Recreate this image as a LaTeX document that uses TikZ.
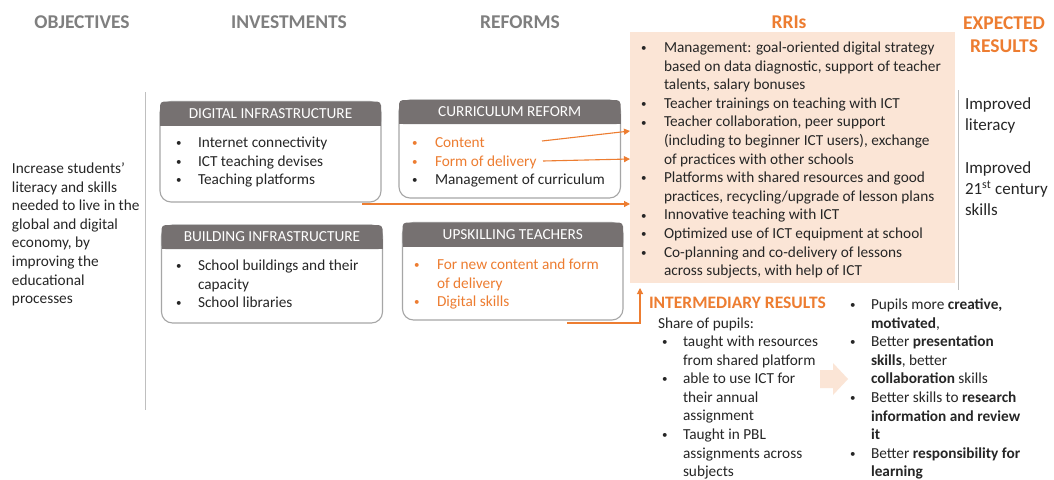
\documentclass[tikz,border=0pt]{standalone}
\usepackage{fontspec}
\setmainfont{Carlito}
\usetikzlibrary{arrows.meta}
\definecolor{hdr}{HTML}{767171}
\definecolor{ttl}{HTML}{7F7F7F}
\definecolor{org}{HTML}{ED7D31}
\definecolor{peach}{HTML}{FBE5D6}
\definecolor{txt}{HTML}{262626}
\definecolor{brd}{HTML}{A6A6A6}
\definecolor{vln}{HTML}{BFBFBF}
\newcommand{\bfs}{\fontsize{15.3}{18.6}\selectfont}
\newcommand{\bul}{\raisebox{0.8pt}{\scalebox{0.72}{\textbullet}}}
\newcommand{\obul}{\textcolor{org}{\bul}}
\newcommand{\blst}[2]{\begin{tabular}[t]{@{}p{#1}@{}l@{}}#2\end{tabular}}
\newcommand{\ltab}[1]{\begin{tabular}[t]{@{}l@{}}#1\end{tabular}}
\newcommand{\mybox}[6]{%
  \node[frame, minimum width=#4pt, minimum height=#5pt, anchor=north west] (#1) at (#2,#3) {};
  \fill[hdr, rounded corners=4pt] (#1.north west) rectangle ([yshift=-24pt]#1.north east);
  \fill[hdr] ([yshift=-14pt]#1.north west) rectangle ([yshift=-24pt]#1.north east);
  \node[hdrtext] (#1h) at ([yshift=-12pt]#1.north) {#6};
}
\tikzset{
  x=1pt, y=-1pt,
  every node/.style={inner sep=0pt, outer sep=0pt, text=txt, font=\bfs},
  colhead/.style={font=\fontsize{19.5}{23.8}\selectfont\bfseries, text=ttl, anchor=base},
  frame/.style={draw=brd, line width=1.1pt, rounded corners=11pt, fill=white},
  hdrtext/.style={text=white, anchor=center},
  lst/.style={anchor=base west},
  conn/.style={draw=org, line width=1.1pt, -{Triangle[length=6pt,width=6pt]}},
  vrule/.style={draw=vln, line width=1pt},
}
\begin{document}
\begin{tikzpicture}
\useasboundingbox (0,0) rectangle (1054,479);
\fill[white] (0,0) rectangle (1054,479);

% column headers
\node[colhead] (hobj) at (82,28.3) {OBJECTIVES};
\node[colhead] (hinv) at (289,28.3) {INVESTMENTS};
\node[colhead] (href) at (520,28.3) {REFORMS};
\node[colhead, text=org] (hrri) at (789,28.3) {RRIs};
\node[colhead, text=org] (hexp) at (1004,29) {\begin{tabular}[t]{@{}c@{}}EXPECTED\\RESULTS\end{tabular}};

% vertical rules
\coordinate (v1a) at (145,92); \coordinate (v1b) at (145,410);
\draw[vrule] (v1a) -- (v1b);
\coordinate (v2a) at (958,90); \coordinate (v2b) at (958,290);
\draw[vrule] (v2a) -- (v2b);

% objective
\node[lst] (obj) at (12,173.5) {\ltab{Increase students’\\literacy and skills\\needed to live in the\\global and digital\\economy, by\\improving the\\educational\\processes}};

% RRI box
\node[fill=peach, minimum width=325pt, minimum height=251pt, anchor=north west] (rri) at (630,32) {};
\node[lst] (rril) at (641,52.5) {\blst{23pt}{%
\bul & Management: goal-oriented digital strategy\\
 & based on data diagnostic, support of teacher\\
 & talents, salary bonuses\\
\bul & Teacher trainings on teaching with ICT\\
\bul & Teacher collaboration, peer support\\
 & (including to beginner ICT users), exchange\\
 & of practices with other schools\\
\bul & Platforms with shared resources and good\\
 & practices, recycling/upgrade of lesson plans\\
\bul & Innovative teaching with ICT\\
\bul & Optimized use of ICT equipment at school\\
\bul & Co-planning and co-delivery of lessons\\
 & across subjects, with help of ICT}};

% boxes
\mybox{di}{160}{101.5}{221}{100.5}{DIGITAL INFRASTRUCTURE}
\node[lst] (dil) at (176,147.5) {\blst{22pt}{%
\bul & Internet connectivity\\
\bul & ICT teaching devises\\
\bul & Teaching platforms}};

\mybox{bi}{161.5}{225}{221}{98}{BUILDING INFRASTRUCTURE}
\node[lst] (bil) at (176,270.5) {\blst{22pt}{%
\bul & School buildings and their\\
 & capacity\\
\bul & School libraries}};

\mybox{cr}{399}{100}{221.5}{98}{CURRICULUM REFORM}
\node[lst] (crl) at (412,147.5) {\blst{23pt}{%
\obul & \textcolor{org}{Content}\\
\obul & \textcolor{org}{Form of delivery}\\
\bul & Management of curriculum}};

\mybox{ut}{402.5}{222.5}{220.5}{97.5}{UPSKILLING TEACHERS}
\node[lst] (utl) at (414,269.5) {\blst{23pt}{%
\obul & \textcolor{org}{For new content and form}\\
 & \textcolor{org}{of delivery}\\
\obul & \textcolor{org}{Digital skills}}};

% expected results
\node[lst, font=\fontsize{17}{21}\selectfont] (exp1) at (965,109.5) {\ltab{Improved\\literacy}};
\node[lst, font=\fontsize{17}{21}\selectfont] (exp2) at (965,173.5) {\ltab{Improved\\21\textsuperscript{st} century\\skills}};

% intermediary results
\node[lst, font=\fontsize{17.5}{21}\selectfont\bfseries, text=org] (imt) at (649,308.8) {INTERMEDIARY RESULTS};
\node[lst] (share) at (658,328.5) {Share of pupils:};
\node[lst] (iml) at (662,346.5) {\blst{21pt}{%
\bul & taught with resources\\
 & from shared platform\\
\bul & able to use ICT for\\
 & their annual\\
 & assignment\\
\bul & Taught in PBL\\
 & assignments across\\
 & subjects}};

% block arrow
\fill[peach] (820,370) -- (833,370) -- (833,363) -- (848,379) -- (833,395) -- (833,388) -- (820,388) -- cycle;

\node[lst] (outl) at (850,309.5) {\blst{21pt}{%
\bul & Pupils more \textbf{creative,}\\
 & \textbf{motivated},\\
\bul & Better \textbf{presentation}\\
 & \textbf{skills}, better\\
 & \textbf{collaboration} skills\\
\bul & Better skills to \textbf{research}\\
 & \textbf{information and review}\\
 & \textbf{it}\\
\bul & Better \textbf{responsibility for}\\
 & \textbf{learning}}};

% connectors
\coordinate (a1s) at (542,141); \coordinate (a1e) at (630,131);
\coordinate (a2s) at (543,161); \coordinate (a2e) at (630,159);
\coordinate (a3s) at (362,204); \coordinate (a3e) at (630,204);
\coordinate (a4s) at (567,323); \coordinate (a4e) at (640,288);
\draw[conn] (a1s) -- (a1e);
\draw[conn] (a2s) -- (a2e);
\draw[conn] (a3s) -- (a3e);
\draw[conn] (a4s) -| (a4e);
\end{tikzpicture}
\end{document}
